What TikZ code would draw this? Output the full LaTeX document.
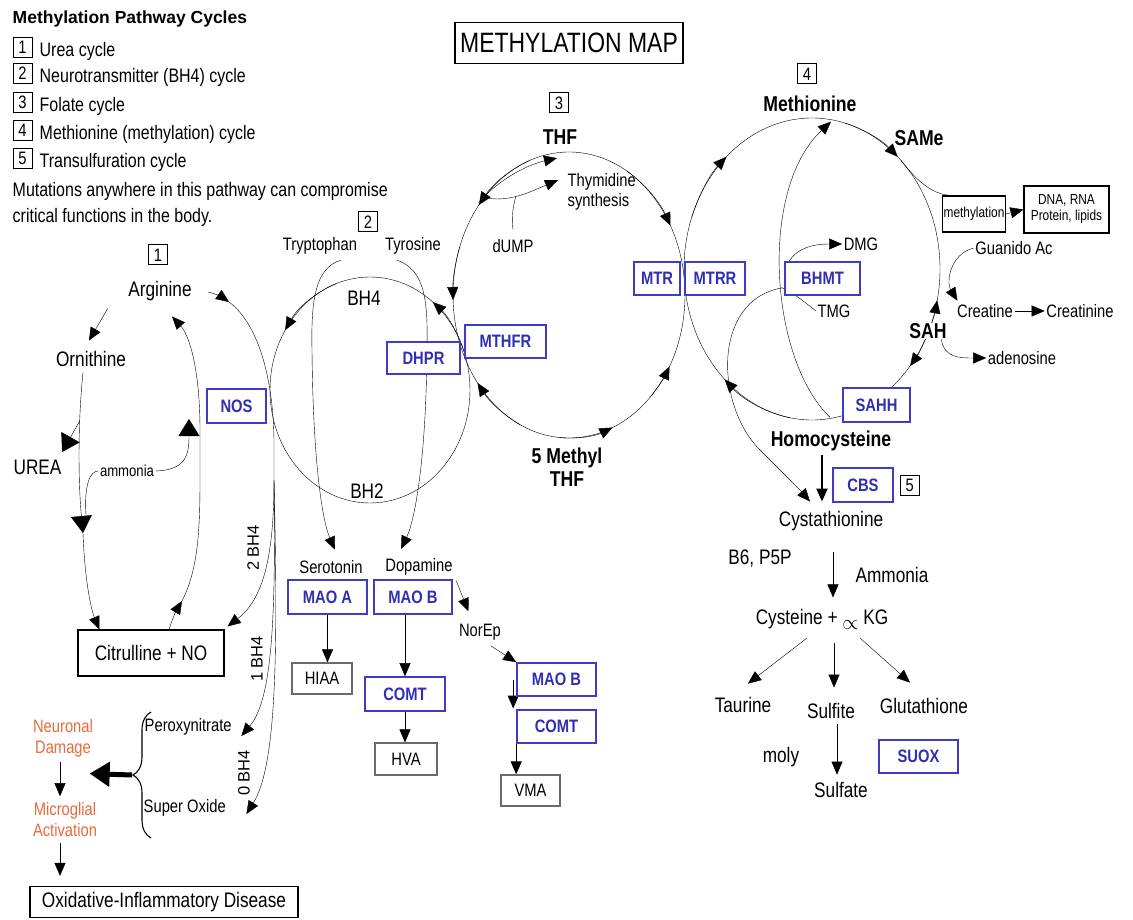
\documentclass[tikz,border=0pt]{standalone}
\usepackage{fontspec}
\setmainfont{Liberation Sans}[FakeStretch=0.82]
\newfontfamily\widefont{Liberation Sans}
\usepackage{tikz}
\usetikzlibrary{arrows.meta,positioning,calc,backgrounds,decorations.pathreplacing}
\definecolor{enzblue}{HTML}{3C3CC8}
\definecolor{enztext}{HTML}{2F2FB4}
\definecolor{hurtorange}{HTML}{EA6A3C}
\definecolor{boxgray}{HTML}{6A6A6A}
\newcommand\txtN{\fontsize{21}{24}\selectfont}
\newcommand\txtS{\fontsize{18}{20}\selectfont}
\newcommand\txtB{\fontsize{21.5}{23}\selectfont\bfseries}
\newcommand\txtE{\fontsize{18}{20}\selectfont\bfseries}
\newcommand\txtL{\fontsize{19.5}{22}\selectfont}
\newcommand\txtT{\fontsize{14.5}{16}\selectfont}
\newcommand\txtA{\fontsize{16}{18}\selectfont}
\newcommand\txtO{\fontsize{18}{21}\selectfont}
\newcommand\txtR{\widefont\fontsize{16.5}{18}\selectfont}
\newcommand\txtHead{\widefont\fontsize{17.5}{20}\selectfont\bfseries}
\newcommand\txtMap{\fontsize{28}{30}\selectfont}
\newcommand\txtNum{\fontsize{18}{18}\selectfont}
\begin{document}
\begin{tikzpicture}[x=1pt, y=-1pt, line width=1.4pt,
    enz/.style={draw=enzblue, line width=1.6pt, fill=white, text=enztext,
                font=\txtE, minimum height=33pt, inner sep=2pt},
    blk/.style={draw=black, line width=1.2pt, fill=white, inner sep=2pt},
    gry/.style={draw=boxgray, line width=1.2pt, fill=white, font=\txtS,
                minimum height=31pt, inner sep=2pt},
    numbox/.style={draw, line width=1pt, font=\txtNum, inner sep=0pt,
                   minimum width=19pt, minimum height=20pt},
    lbl/.style={font=\txtN, inner sep=1pt},
    sml/.style={font=\txtS, inner sep=1pt},
    bld/.style={font=\txtB, inner sep=1pt},
    hurt/.style={font=\txtO, text=hurtorange, align=center, inner sep=1pt},
    cnt/.style={font=\txtR, rotate=90, inner sep=1pt},
    arw/.style={-{Triangle[length=13pt,width=11pt]}},
    bigarw/.style={-{Triangle[length=17pt,width=21pt]}},
]
\useasboundingbox (0,0) rectangle (1133,920);

% the three big cycles
\begin{scope}[on background layer]
\fill[white] (0,0) rectangle (1133,920);
\coordinate (bhc) at (370,390);
\coordinate (fc) at (569,295);
\coordinate (mc) at (812,269);
\draw (bhc) ellipse [x radius=100, y radius=113];
\draw (fc) ellipse [x radius=116, y radius=143];
\draw (mc) ellipse [x radius=128, y radius=151];
\foreach \a/\b in {250/212, 340/309}
  \draw[arw] ($(bhc)+(\a:100 and 113)$) arc[start angle=\a, end angle=\b, x radius=100, y radius=113];
\foreach \a/\b in {250/219, 200/178, 115/142, 95/68, 45/30, 300/331}
  \draw[arw] ($(fc)+(\a:116 and 143)$) arc[start angle=\a, end angle=\b, x radius=116, y radius=143];
\foreach \a/\b in {200/228, 285/312, 28/12, 22/40, 100/133}
  \draw[arw] ($(mc)+(\a:128 and 151)$) arc[start angle=\a, end angle=\b, x radius=128, y radius=151];
\end{scope}

% legend
\node[font=\txtHead, anchor=base west, inner sep=0pt] (legtitle) at (12,24) {Methylation Pathway Cycles};
\foreach \k/\yb/\txt in {1/57/Urea cycle, 2/83/Neurotransmitter (BH4) cycle,
    3/112/Folate cycle, 4/140/Methionine (methylation) cycle, 5/168/Transulfuration cycle}{
  \node[numbox] (leg\k) at (22.5,\yb-9.5) {\k};
  \node[font=\txtL, anchor=base west, inner sep=0pt] (legtxt\k) at (39,\yb) {\txt};
}
\node[font=\txtL, anchor=base west, inner sep=0pt] (mutA) at (12,197) {Mutations anywhere in this pathway can compromise};
\node[font=\txtL, anchor=base west, inner sep=0pt] (mutB) at (12,223) {critical functions in the body.};

\node[draw, line width=1.2pt, font=\txtMap, minimum width=228pt, minimum height=41pt, inner sep=0pt] (title) at (569,43) {METHYLATION MAP};

% urea cycle
\node[numbox] (cone) at (158,255) {1};
\node[lbl] (arg) at (160,291) {Arginine};
\node[lbl] (orn) at (91,359) {Ornithine};
\node[lbl] (urea) at (37.5,467) {UREA};
\node[font=\txtA, inner sep=1pt] (amm) at (127,471) {ammonia};
\node[enz, minimum width=59pt, minimum height=34pt] (nos) at (236.5,406) {NOS};
\node[blk, font=\txtN, minimum width=146pt, minimum height=46pt] (cit) at (151,653) {Citrulline + NO};

% neurotransmitter cycle
\node[numbox] (ctwo) at (368,222) {2};
\node[sml] (trp) at (320,246) {Tryptophan};
\node[sml] (tyr) at (413,246) {Tyrosine};
\node[lbl] (bhf) at (364,298) {BH4};
\node[lbl] (bht) at (367,491) {BH2};
\node[enz, minimum width=73pt, minimum height=32pt] (dhpr) at (423.5,358) {DHPR};
\node[sml] (sero) at (331,567) {Serotonin};
\node[sml] (dopa) at (419,567) {Dopamine};
\node[enz, minimum width=79pt, minimum height=34pt] (maoa) at (327.5,597) {MAO A};
\node[enz, minimum width=78pt, minimum height=34pt] (maob) at (413,597) {MAO B};
\node[gry, minimum width=60pt] (hiaa) at (322,678.5) {HIAA};
\node[enz, minimum width=80pt, minimum height=34pt] (comt) at (405,694) {COMT};
\node[gry, minimum width=62pt, minimum height=32pt] (hva) at (406,759) {HVA};
\node[sml] (norep) at (480,632) {NorEp};
\node[enz, minimum width=79pt] (maobb) at (556.5,679.5) {MAO B};
\node[enz, minimum width=79pt] (comtb) at (556.5,726.5) {COMT};
\node[gry, minimum width=59pt] (vma) at (530.5,790.5) {VMA};

% folate cycle
\node[numbox] (cthree) at (559,103) {3};
\node[bld] (thf) at (560,137) {THF};
\node[sml, align=left, anchor=west] (thy) at (566,192) {Thymidine\\synthesis};
\node[sml] (dump) at (513,246) {dUMP};
\node[enz, minimum width=81pt] (mthfr) at (505.5,341.5) {MTHFR};
\node[enz, minimum width=46pt] (mtr) at (657,278.5) {MTR};
\node[enz, minimum width=60pt] (mtrr) at (715,278.5) {MTRR};
\node[bld, align=center] (mthf) at (567,467) {5 Methyl\\THF};

% methionine cycle
\node[numbox] (cfour) at (807,74) {4};
\node[bld] (met) at (810,104) {Methionine};
\node[bld] (same) at (919,138) {SAMe};
\node[draw, line width=1.2pt, fill=white, font=\txtT, minimum width=62pt, minimum height=36pt, inner sep=1pt] (mbox) at (974,214) {methylation};
\node[draw, line width=1.2pt, fill=white, font=\txtT, align=center, minimum width=85pt, minimum height=47pt, inner sep=1pt] (dna) at (1066.5,209.5) {DNA, RNA\\Protein, lipids};
\node[sml] (dmg) at (861,244) {DMG};
\node[enz, minimum width=75pt] (bhmt) at (822.5,278.5) {BHMT};
\node[sml] (tmg) at (834,311) {TMG};
\node[sml] (gua) at (1014,248) {Guanido Ac};
\node[sml] (crea) at (985,311) {Creatine};
\node[sml] (crnn) at (1080,311) {Creatinine};
\node[bld, fill=white, inner sep=0pt] (sah) at (928,331) {SAH};
\node[sml] (aden) at (1022,358) {adenosine};
\node[enz, minimum width=67pt, minimum height=34pt] (sahh) at (876.5,405) {SAHH};
\node[bld] (hcy) at (831,441) {Homocysteine};

% transulfuration
\node[enz, minimum width=60pt, minimum height=34pt] (cbs) at (863,485) {CBS};
\node[numbox, right=6pt of cbs] (cfive) {5};
\node[lbl] (cyst) at (831,521) {Cystathionine};
\node[lbl] (bsix) at (760,559) {B6, P5P};
\node[lbl] (ammo) at (892,575) {Ammonia};
\node[lbl] (cyke) at (822,619) {Cysteine + \raisebox{-5pt}{$\propto$} KG};
\node[lbl] (tau) at (743,705) {Taurine};
\node[lbl] (sulfi) at (831,711) {Sulfite};
\node[lbl] (glu) at (924,706) {Glutathione};
\node[lbl] (moly) at (781,757) {moly};
\node[lbl] (sulfa) at (841,790) {Sulfate};
\node[enz, line width=2.4pt, minimum width=79pt, minimum height=33pt] (suox) at (918.5,756.5) {SUOX};

% damage chain
\node[sml, anchor=west] (perox) at (143,727) {Peroxynitrate};
\node[sml, anchor=west] (supox) at (142,808) {Super Oxide};
\node[hurt] (hurtA) at (63,738) {Neuronal\\Damage};
\node[hurt] (hurtB) at (65,820) {Microglial\\Activation};
\node[blk, font=\txtN, minimum width=268pt, minimum height=31pt] (oxid) at (164,902) {Oxidative-Inflammatory Disease};
\node[cnt] (cntA) at (253,548) {2 BH4};
\node[cnt] (cntB) at (257,659) {1 BH4};
\node[cnt] (cntC) at (244,773) {0 BH4};

\begin{scope}[on background layer]
% urea cycle
\draw[arw] ($(arg.south west)+(-19,6)$) -- ($(orn.north)+(-2,-9)$);
\coordinate (ureaj) at (83,533);
\draw[bigarw] ($(orn.south)+(-8,4)$) .. controls (78,420) and (78,480) .. (ureaj);
\draw[arw] (ureaj) .. controls (85,585) and (92,612) .. ($(cit.north west)+(22,0)$);
\draw[bigarw] ($(orn.south)+(-11,52)$) -- ($(urea.north east)+(-1,-6)$);
\draw ($(ureaj)+(3,-18)$) .. controls (84,485) and (90,471) .. (amm.west);
\coordinate (ammend) at (189,419);
\draw[bigarw] (amm.east) .. controls (186,470) and (189,455) .. (ammend);
\coordinate (citup) at (182,601);
\draw[arw] ($(cit.north)+(18,0)$) .. controls (172,620) and (176,611) .. (citup);
\draw[arw] (citup) .. controls (198,570) and (200,530) .. (200,480) -- (200,430)
  .. controls (200,372) and (190,336) .. ($(arg.south)+(12,14)$);
% arginine to the BH4 branches
\coordinate (argtip) at (229,302);
\draw[arw] ($(arg.east)+(15,1)$) .. controls (216,294) and (222,297) .. (argtip);
\coordinate (trunk) at (274,480);
\draw (argtip) .. controls (256,322) and (273,372) .. (274,440) -- (trunk);
\draw[arw] (trunk) .. controls (274,560) and (262,600) .. ($(cit.north east)+(3,-3)$);
\draw[arw] (trunk) .. controls (276,620) and (272,700) .. ($(perox.east)+(8,9)$);
\draw[arw] (trunk) .. controls (278,650) and (277,765) .. ($(supox.east)+(19,6)$);
% neurotransmitters
\draw[arw] ($(trp.south)+(21,4)$) .. controls (315,268) and (311,300) .. (312,350)
  .. controls (313,460) and (322,520) .. ($(sero.north)+(4,-9)$);
\draw[arw] ($(tyr.south)+(-16,4)$) .. controls (425,270) and (428,300) .. (427,350)
  .. controls (426,460) and (415,520) .. ($(dopa.north)+(-18,-8)$);
\draw[arw] (maoa.south) -- (maoa.south |- hiaa.north);
\draw[arw] (comt.north |- maob.south) -- (comt.north);
\draw[arw] (comt.south) -- (comt.south |- hva.north);
\draw[arw] ($(dopa.south east)+(2,4)$) -- ($(norep.north west)+(11,-11)$);
\draw[arw] ($(norep.south east)+(-12,4)$) -- (maobb.north west);
\draw[arw, line width=1pt] ($(maobb.west)+(-3,0)$) -- ($(comtb.west)+(-3,-18)$);
\draw[arw, line width=1pt] (comtb.south west) -- (comtb.south west |- vma.north);
% folate extras
\draw[arw] ($(fc)+(225:116 and 143)$) .. controls (510,172) and (535,163) .. ($(thf.south)+(-3,12)$);
\draw[arw] ($(fc)+(223:116 and 143)$) .. controls (508,203) and (530,192)
  .. coordinate[pos=0.45] (thyj) ($(thy.west)+(-8,-12)$);
\draw ($(dump.north)+(0,-8)$) .. controls (511,215) and (514,203) .. (thyj);
% methionine extras
\draw[arw] ($(hcy.north)+(-1,-12)$) .. controls (770,360) and (758,190) .. ($(met.south)+(21,8)$);
\draw ($(mc)+(-46:128 and 151)$) .. controls (920,185) and (935,195) .. ($(mbox.north west)+(10,0)$);
\draw[arw] (mbox.east) -- (dna.west);
\draw[arw] ($(bhmt.north west)+(5,0)$) .. controls (798,247) and (815,244) .. (dmg.west);
\draw (tmg.west) .. controls (802,300) and (792,292) .. ($(bhmt.south west)+(-2,-8)$);
\draw[arw] ($(bhmt.south west)+(-2,-8)$) .. controls (712,300) and (715,405) .. (760,450)
  .. controls (785,475) and (800,490) .. ($(cyst.north)+(-21,-8)$);
\draw[arw] (gua.west) .. controls (950,254) and (946,282) .. ($(crea.north west)+(2,-2)$);
\draw[arw] (crea.east) -- (crnn.west);
\draw[arw] ($(sah.south east)+(-6,0)$) .. controls (944,358) and (960,358) .. (aden.west);
% transulfuration
\draw[arw, line width=2.4pt] ($(hcy.south)+(-9,2)$) -- ($(cyst.north)+(-9,-8)$);
\draw[arw] ($(cyst.south)+(2,20)$) -- ($(cyst.south)+(2,65)$);
\draw[arw] ($(cyke)+(-15,19)$) -- ($(tau.north)+(5,-12)$);
\draw[arw] ($(cyke)+(12,24)$) -- ($(sulfi.north)+(3,-14)$);
\draw[arw] ($(cyke)+(38,19)$) -- ($(glu.north)+(-14,-14)$);
\draw[arw] ($(sulfi.south)+(6,4)$) -- ($(sulfa.north)+(-4,-6)$);
% damage chain
\draw[decorate, decoration={brace, amplitude=18pt}, line width=1.1pt]
  ($(supox.west)+(9,30)$) -- ($(perox.west)+(8,-15)$);
\draw[line width=5pt, -{Triangle[length=20pt,width=24pt]}] ($(supox.west)+(-10,-33)$) -- ($(hurtA.south east)+(-5,15)$);
\draw[arw] ($(hurtA.south)+(-3,3)$) -- ($(hurtB.north)+(-5,-5)$);
\draw[arw] ($(hurtB.south)+(-5,4)$) -- ($(oxid.north)+(-104,-10)$);
\end{scope}
\end{tikzpicture}
\end{document}
